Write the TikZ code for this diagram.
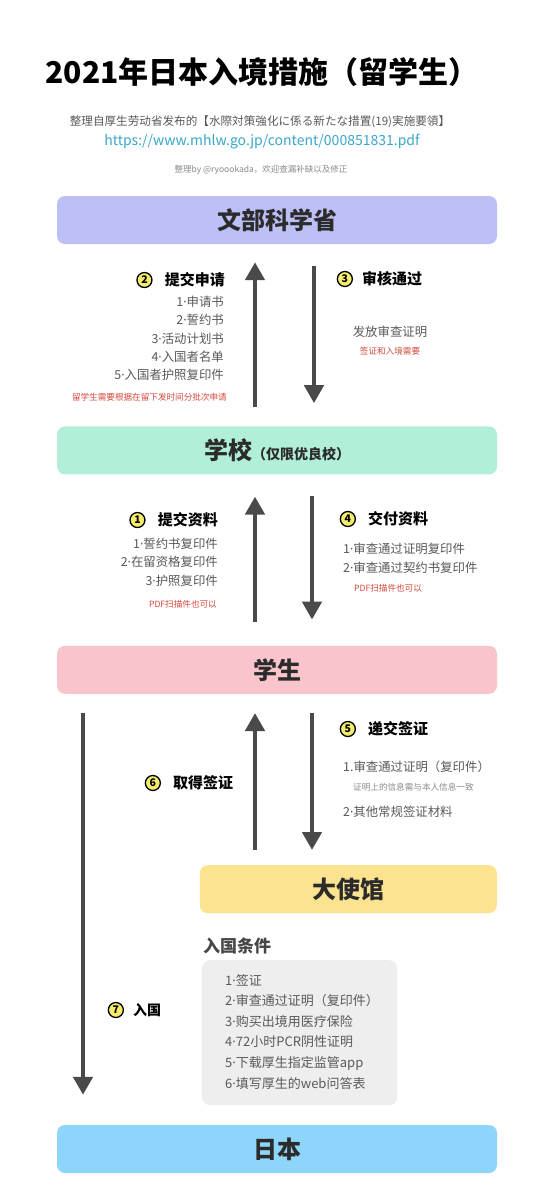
\documentclass[tikz,border=0pt]{standalone}
\usepackage{fontspec}
\setmainfont{Noto Sans CJK SC}
\newfontfamily\latinfont{Noto Sans}
\newcommand\md{{\latinfont ·}}
\usetikzlibrary{arrows.meta,positioning}
\definecolor{mext}{HTML}{BCC0F6}
\definecolor{school}{HTML}{B2EFD8}
\definecolor{student}{HTML}{FAC4CC}
\definecolor{embassy}{HTML}{FCE38F}
\definecolor{japan}{HTML}{8ED5FB}
\definecolor{panel}{HTML}{EEEEEE}
\definecolor{ink}{HTML}{2B2B2B}
\definecolor{muted}{HTML}{595959}
\definecolor{faint}{HTML}{8A8A8A}
\definecolor{note}{HTML}{D5483C}
\definecolor{link}{HTML}{3AA7C9}
\definecolor{arrowc}{HTML}{4A4A4A}
\definecolor{badge}{HTML}{F4EC6C}
\tikzset{
  box/.style={rectangle,rounded corners=8pt,minimum width=440pt,minimum height=48pt,
              text=ink,font=\fontsize{24}{28}\selectfont\bfseries,inner sep=0pt},
  hd/.style={font=\fontsize{15}{18}\selectfont\bfseries,text=black,inner sep=0pt},
  items/.style={font=\fontsize{12.4}{18.3}\selectfont,text=muted,inner sep=0pt},
  notes/.style={font=\fontsize{8.6}{10}\selectfont,text=note,inner sep=0pt},
  num/.style={circle,draw=black,line width=1.3pt,fill=badge,minimum size=15pt,inner sep=0pt,
              font=\fontsize{10.5}{10.5}\selectfont\bfseries},
  fl/.style={-{Triangle[width=19pt,length=18pt]},line width=4.5pt,draw=arrowc},
}
\begin{document}
\begin{tikzpicture}[x=1pt,y=-1pt]
\fill[white] (0,0) rectangle (554,1197);
\useasboundingbox (0,0) rectangle (554,1197);
% header
\node[font=\fontsize{30}{33}\selectfont\bfseries] (title) at (262,72) {2021年日本入境措施（留学生）};
\node[font=\fontsize{11.6}{13}\selectfont,text=muted] (src) at (260,122) {整理自厚生劳动省发布的【水際対策強化に係る新たな措置(19)実施要領】};
\node[font=\fontsize{14}{16}\selectfont,text=link] (url) at (262,142) {https://www.mhlw.go.jp/content/000851831.pdf};
\node[font=\fontsize{8.5}{10}\selectfont,text=faint] (credit) at (261,170) {整理by @ryoookada，欢迎查漏补缺以及修正};
% boxes
\node[box,fill=mext] (mext) at (277,220) {文部科学省};
\node[box,fill=school,below=182pt of mext] (school) {学校{\fontsize{14}{16}\selectfont（仅限优良校）}};
\node[box,fill=student,below=171pt of school] (student) {学生};
\node[box,fill=embassy,minimum width=297pt,anchor=north east] (embassy) at (497,865) {大使馆};
\node[box,fill=japan] (japan) at (277,1149) {日本};
% arrows
\draw[fl,shorten <=19pt,shorten >=18pt] ([xshift=-22pt]school.north) -- ([xshift=-22pt]mext.south);
\draw[fl,shorten <=22pt,shorten >=23pt] ([xshift=37pt]mext.south) -- ([xshift=37pt]school.north);
\draw[fl,shorten <=24pt,shorten >=22pt] ([xshift=-22pt]student.north) -- ([xshift=-22pt]school.south);
\draw[fl,shorten <=21pt,shorten >=26pt] ([xshift=35pt]school.south) -- ([xshift=35pt]student.north);
\draw[fl,shorten <=15pt,shorten >=19pt] ([xshift=-22pt]student.south |- embassy.north) -- ([xshift=-22pt]student.south);
\draw[fl,shorten <=19pt,shorten >=15pt] ([xshift=35pt]student.south) -- ([xshift=35pt]student.south |- embassy.north);
\draw[fl,shorten <=19pt,shorten >=30pt] ([xshift=-194pt]student.south) -- ([xshift=-194pt]student.south |- japan.north);
% step 2
\node[hd,anchor=east] (h2) at (225,280) {提交申请};
\node[num,left=12pt of h2] (n2) {2};
\node[items,align=right,anchor=north east] (l2) at (224,296) {1\md 申请书\\2\md 誓约书\\3\md 活动计划书\\4\md 入国者名单\\5\md 入国者护照复印件};
\node[notes,anchor=east] (r2) at (227,397) {留学生需要根据在留下发时间分批次申请};
% step 3
\node[hd,anchor=west] (h3) at (362,279) {审核通过};
\node[num,left=9pt of h3] (n3) {3};
\node[items] (t3) at (390,332) {发放审查证明};
\node[notes] (r3) at (390,351) {签证和入境需要};
% step 1
\node[hd,anchor=east] (h1) at (218,520) {提交资料};
\node[num,left=12pt of h1] (n1) {1};
\node[items,align=right,anchor=north east] (l1) at (218,538) {1\md 誓约书复印件\\2\md 在留资格复印件\\3\md 护照复印件};
\node[notes,anchor=east] (r1) at (217,604) {PDF扫描件也可以};
% step 4
\node[hd,anchor=west] (h4) at (368,519) {交付资料};
\node[num,left=12pt of h4] (n4) {4};
\node[items,align=left,anchor=north west] (l4) at (343,543) {1\md 审查通过证明复印件\\2\md 审查通过契约书复印件};
\node[notes,anchor=west] (r4) at (354,588) {PDF扫描件也可以};
% step 5
\node[hd,anchor=west] (h5) at (368,729) {递交签证};
\node[num,left=12pt of h5] (n5) {5};
\node[items,anchor=west] (l5a) at (343,767) {1.审查通过证明（复印件）};
\node[notes,text=faint,anchor=west] (r5) at (353,787) {证明上的信息需与本人信息一致};
\node[items,anchor=west] (l5b) at (343,812) {2\md 其他常规签证材料};
% step 6
\node[hd,anchor=west] (h6) at (173,783) {取得签证};
\node[num,left=12pt of h6] (n6) {6};
% entry conditions
\node[font=\fontsize{17}{20}\selectfont\bfseries,text=muted!80!black,anchor=west,inner sep=0pt] (cond) at (203,946) {入国条件};
\node[fill=panel,rounded corners=8pt,minimum width=195pt,minimum height=145pt,anchor=north west] (panel) at (202,960) {};
\node[items,font=\fontsize{13}{20.6}\selectfont,align=left,anchor=north west] (condlist) at (225,974) {1\md 签证\\2\md 审查通过证明（复印件）\\3\md 购买出境用医疗保险\\4\md 72小时PCR阴性证明\\5\md 下载厚生指定监管app\\6\md 填写厚生的web问答表};
% step 7
\node[hd,font=\fontsize{14}{16}\selectfont\bfseries,anchor=west] (h7) at (133,1010) {入国};
\node[num,left=9pt of h7] (n7) {7};
\end{tikzpicture}
\end{document}
